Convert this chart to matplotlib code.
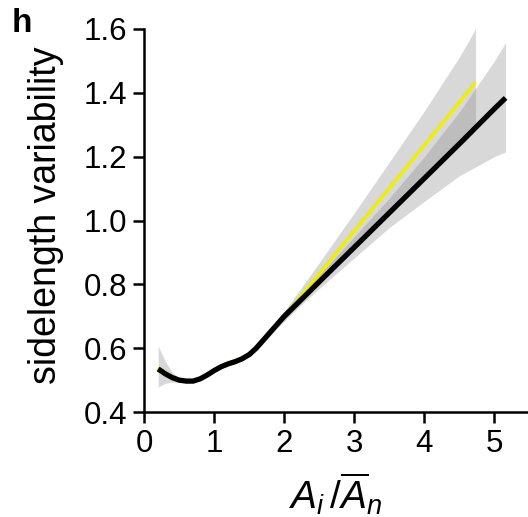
#!/usr/bin/env python3

import matplotlib
matplotlib.use("Agg")
import matplotlib.pyplot as plt
import numpy as np

# black fit (all cells)
x_black = [0.2, 0.3, 0.4, 0.5, 0.6, 0.7, 0.8, 0.9, 1.0, 1.1, 1.2, 1.3, 1.4, 1.5,
           1.6, 1.7, 1.8, 1.9, 2.0, 2.5, 3.0, 3.5, 4.0, 4.5, 5.0, 5.16]
y_black = [0.535, 0.52, 0.508, 0.5, 0.497, 0.497, 0.504, 0.516, 0.53, 0.542, 0.551,
           0.558, 0.567, 0.58, 0.6, 0.625, 0.65, 0.675, 0.70, 0.808, 0.916, 1.024,
           1.132, 1.24, 1.35, 1.384]
lo_black = [0.478, 0.49, 0.494, 0.492, 0.491, 0.491, 0.498, 0.51, 0.524, 0.536, 0.545,
            0.552, 0.561, 0.574, 0.593, 0.617, 0.641, 0.665, 0.688, 0.787, 0.883, 0.978,
            1.06, 1.14, 1.2, 1.215]
hi_black = [0.607, 0.56, 0.525, 0.508, 0.503, 0.503, 0.51, 0.522, 0.536, 0.548, 0.557,
            0.564, 0.573, 0.586, 0.607, 0.633, 0.659, 0.685, 0.712, 0.829, 0.949, 1.07,
            1.2, 1.34, 1.5, 1.557]

# yellow fit
x_yellow = [0.2, 0.3, 0.4, 0.5, 0.6, 0.7, 0.8, 0.9, 1.0, 1.1, 1.2, 1.3, 1.4, 1.5,
            1.6, 1.7, 1.8, 1.9, 2.0, 2.5, 3.0, 3.5, 4.0, 4.5, 4.73]
y_yellow = [0.54, 0.524, 0.51, 0.501, 0.497, 0.497, 0.505, 0.518, 0.532, 0.544, 0.553,
            0.56, 0.568, 0.58, 0.6, 0.624, 0.649, 0.675, 0.70, 0.835, 0.969, 1.103,
            1.238, 1.372, 1.434]
lo_yellow = [0.54, 0.524, 0.51, 0.501, 0.497, 0.497, 0.505, 0.518, 0.532, 0.544, 0.553,
             0.56, 0.568, 0.578, 0.596, 0.618, 0.641, 0.664, 0.685, 0.802, 0.914, 1.023,
             1.133, 1.232, 1.28]
hi_yellow = [0.54, 0.524, 0.51, 0.501, 0.497, 0.497, 0.505, 0.518, 0.532, 0.544, 0.553,
             0.56, 0.568, 0.582, 0.604, 0.63, 0.657, 0.686, 0.715, 0.868, 1.024, 1.183,
             1.343, 1.512, 1.60]

x_ticks = [0, 1, 2, 3, 4, 5]
y_ticks = [0.4, 0.6, 0.8, 1.0, 1.2, 1.4, 1.6]


def main() -> None:
    plt.rcParams.update({
        "font.family": "Liberation Sans",
        "mathtext.fontset": "custom",
        "mathtext.rm": "Liberation Sans",
        "mathtext.it": "Liberation Sans:italic",
        "font.size": 22,
    })

    fig = plt.figure(figsize=(5.28, 5.17), dpi=100)
    ax = fig.add_axes([0.273, 0.203, 0.727, 0.741])

    ax.fill_between(x_yellow, lo_yellow, hi_yellow, color="gray", alpha=0.3, lw=0)
    ax.fill_between(x_black, lo_black, hi_black, color="gray", alpha=0.3, lw=0)
    ax.plot(x_yellow, y_yellow, color="#eeee00", lw=2.4, solid_capstyle="butt")
    ax.plot(x_black, y_black, color="black", lw=3.8, solid_capstyle="butt")

    ax.set_xlim(0, 5.48)
    ax.set_ylim(0.4, 1.6)
    ax.set_xticks(x_ticks)
    ax.set_yticks(y_ticks)
    ax.set_yticklabels([f"{v:.1f}" for v in y_ticks])

    for side in ("top", "right"):
        ax.spines[side].set_visible(False)
    for side in ("left", "bottom"):
        ax.spines[side].set_linewidth(1.8)
    ax.tick_params(direction="out", length=8, width=1.8, pad=4, labelsize=22.5)

    ax.set_xlabel(r"$A_i\,/\overline{A}_n$", fontsize=28)
    ax.xaxis.set_label_coords(0.5, -0.152)
    ax.set_ylabel("sidelength variability", fontsize=27)
    ax.yaxis.set_label_coords(-0.21, 0.515)

    fig.text(0.022, 0.985, "h", fontsize=24, fontweight="bold", va="top", ha="left")

    fig.savefig("out.png", dpi=100)


if __name__ == "__main__":
    main()
